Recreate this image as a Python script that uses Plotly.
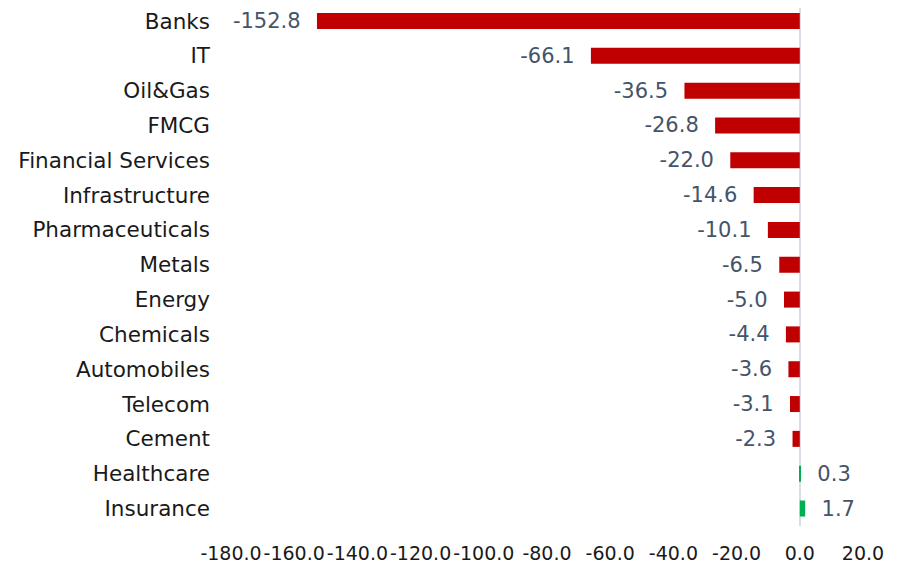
import plotly.graph_objects as go

categories = ["Banks", "IT", "Oil&Gas", "FMCG", "Financial Services", "Infrastructure",
              "Pharmaceuticals", "Metals", "Energy", "Chemicals", "Automobiles",
              "Telecom", "Cement", "Healthcare", "Insurance"]
values = [-152.8, -66.1, -36.5, -26.8, -22.0, -14.6, -10.1, -6.5, -5.0, -4.4, -3.6,
          -3.1, -2.3, 0.3, 1.7]
x_ticks = [-180, -160, -140, -120, -100, -80, -60, -40, -20, 0, 20]
x_ticktext = [f"{t:.1f}" for t in x_ticks]

RED = "#C00000"
GREEN = "#00B050"
colors = [RED if v < 0 else GREEN for v in values]
texts = [(f"{v:.1f}" + "\u2007") if v < 0 else ("\u2007" + f"{v:.1f}") for v in values]

FONT = "DejaVu Sans"

fig = go.Figure(go.Bar(
    x=values, y=categories, orientation="h",
    marker=dict(color=colors, line=dict(width=0)),
    text=texts, textposition="outside", cliponaxis=False, constraintext="none",
    textfont=dict(family=FONT, size=21, color="#44546A"),
    width=0.46,
))

fig.update_layout(
    width=896, height=562,
    margin=dict(l=223, r=41, t=0, b=43.5, autoexpand=False),
    plot_bgcolor="white", paper_bgcolor="white",
    showlegend=False,
    font=dict(family=FONT, size=21, color="#1a1a1a"),
    xaxis=dict(range=[-180, 20], tickvals=x_ticks, ticktext=x_ticktext, tickangle=0,
               automargin=False, ticklabelstandoff=14,
               showgrid=False, zeroline=True, zerolinecolor="#D9DEE6", zerolinewidth=2,
               showline=False, ticks="", tickfont=dict(family=FONT, size=19, color="#1a1a1a")),
    yaxis=dict(range=[14.502, -0.373], showgrid=False, showline=False, ticks="",
               automargin=False,
               ticklabelstandoff=20, tickfont=dict(family=FONT, size=21.5, color="#1a1a1a")),
)

fig.write_html("out.html")
